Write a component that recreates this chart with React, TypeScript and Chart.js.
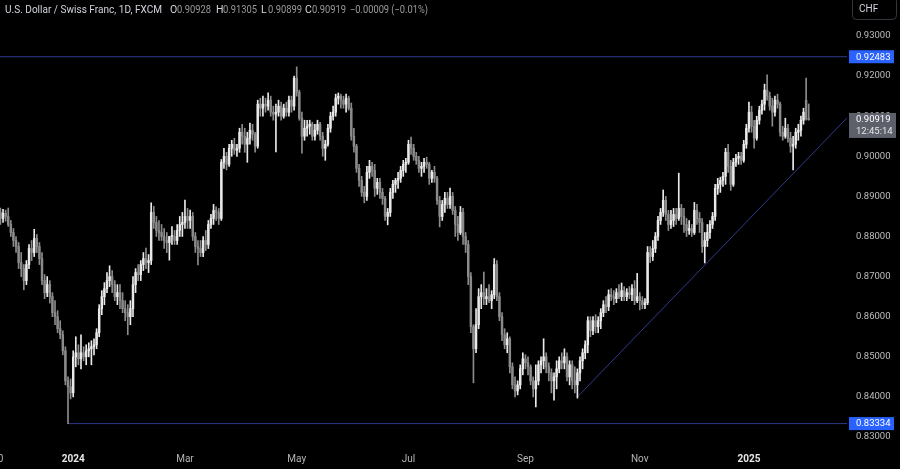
import React, { useEffect, useRef } from "react";
import { Chart, registerables } from "chart.js";
Chart.register(...registerables);

// ---- data: USD/CHF daily candles, 21 Nov 2023 .. 4 Feb 2025 (bar index 0 = 2 Jan 2024)
const FIRST_INDEX = -28;

const opens = [
  // Nov-Dec 2023
  .8860,.8845,.8858,.8850,.8830,.8810,.8790,.8775,.8735,.8720,.8690,.8730,.8770,.8760,.8795,.8775,.8745,.8690,.8660,.8680,.8650,.8610,.8600,.8570,.8555,.8515,.8440,.8425,
  // Jan 2024
  .8410,.8500,.8510,.8495,.8510,.8500,.8515,.8520,.8525,.8530,.8560,.8620,.8650,.8670,.8690,.8700,.8680,.8650,.8660,.8640,.8620,.8610,
  // Feb
  .8600,.8620,.8680,.8710,.8705,.8730,.8745,.8735,.8740,.8860,.8835,.8815,.8810,.8800,.8790,.8785,.8800,.8800,.8790,.8815,.8830,
  // Mar
  .8835,.8850,.8840,.8850,.8800,.8775,.8770,.8760,.8790,.8780,.8830,.8845,.8865,.8860,.8845,.8985,.9000,.8980,.9020,.9030,.9015,
  // Apr
  .9020,.9060,.9050,.9030,.9045,.9065,.9055,.9025,.9130,.9120,.9130,.9125,.9140,.9110,.9105,.9110,.9125,.9100,.9120,.9110,.9140,.9125,
  // May
  .9195,.9160,.9095,.9050,.9070,.9075,.9080,.9050,.9065,.9080,.9050,.9020,.9030,.9070,.9100,.9110,.9145,.9150,.9140,.9130,.9145,.9120,.9050,
  // Jun
  .9025,.8970,.8940,.8910,.8900,.8960,.8975,.8965,.8920,.8935,.8910,.8895,.8850,.8860,.8910,.8930,.8940,.8945,.8965,.8980,
  // Jul
  .8985,.9030,.9020,.9000,.8990,.8970,.8975,.8985,.8980,.8945,.8960,.8945,.8890,.8850,.8880,.8895,.8880,.8900,.8865,.8830,.8810,.8860,.8800,
  // Aug
  .8780,.8700,.8575,.8520,.8580,.8650,.8660,.8645,.8650,.8640,.8655,.8730,.8650,.8600,.8555,.8530,.8545,.8475,.8430,.8415,.8430,.8470,
  // Sep
  .8495,.8485,.8475,.8440,.8420,.8440,.8480,.8490,.8500,.8475,.8460,.8440,.8450,.8470,.8490,.8485,.8500,.8450,.8480,.8440,.8430,
  // Oct
  .8460,.8490,.8510,.8530,.8590,.8565,.8590,.8575,.8590,.8610,.8630,.8625,.8655,.8650,.8645,.8660,.8650,.8665,.8650,.8660,.8655,.8670,.8640,
  // Nov
  .8650,.8640,.8630,.8635,.8760,.8750,.8770,.8800,.8840,.8860,.8890,.8855,.8830,.8840,.8855,.8845,.8870,.8850,.8830,.8815,.8820,
  // Dec
  .8810,.8865,.8845,.8835,.8775,.8790,.8810,.8830,.8850,.8920,.8930,.8940,.8950,.9010,.8975,.8930,.8985,.8995,.9000,.8990,.9030,
  // Jan-Feb 2025
  .9070,.9110,.9075,.9045,.9090,.9115,.9130,.9165,.9150,.9125,.9110,.9140,.9130,.9060,.9050,.9070,.9045,.9025,.9030,.9060,.9065,.9090,.9140,.90928,
];

const highs = [
  .8871,.8868,.8866,.8871,.8840,.8820,.8800,.8785,.8760,.8730,.8740,.8780,.8790,.8818,.8805,.8785,.8760,.8705,.8700,.8690,.8660,.8640,.8615,.8590,.8565,.8525,.8450,.8445,
  .8515,.8550,.8530,.8555,.8525,.8530,.8535,.8540,.8545,.8570,.8630,.8665,.8685,.8710,.8727,.8715,.8690,.8680,.8680,.8660,.8640,.8630,
  .8640,.8700,.8720,.8730,.8740,.8760,.8771,.8755,.8884,.8875,.8850,.8840,.8830,.8820,.8810,.8800,.8825,.8815,.8830,.8850,.8860,
  .8891,.8870,.8866,.8860,.8810,.8790,.8790,.8800,.8815,.8840,.8855,.8880,.8874,.8870,.8992,.9020,.9010,.9030,.9040,.9045,.9030,
  .9070,.9080,.9070,.9060,.9083,.9080,.9060,.9140,.9145,.9150,.9145,.9158,.9150,.9125,.9130,.9140,.9135,.9130,.9135,.9150,.9150,.9200,
  .9223,.9165,.9110,.9090,.9090,.9090,.9085,.9080,.9090,.9085,.9060,.9040,.9080,.9110,.9125,.9155,.9158,.9155,.9150,.9155,.9150,.9133,.9070,
  .9030,.8980,.8950,.8925,.8975,.8990,.8985,.8980,.8945,.8945,.8920,.8900,.8870,.8920,.8940,.8945,.8960,.8975,.8990,.8995,
  .9040,.9048,.9030,.9010,.9000,.8985,.8995,.8998,.8985,.8965,.8975,.8950,.8900,.8890,.8910,.8910,.8921,.8910,.8875,.8850,.8875,.8870,.8810,
  .8790,.8710,.8580,.8620,.8670,.8680,.8711,.8670,.8680,.8665,.8745,.8740,.8660,.8610,.8570,.8560,.8550,.8485,.8450,.8440,.8480,.8510,
  .8505,.8500,.8480,.8450,.8480,.8490,.8500,.8545,.8510,.8485,.8470,.8460,.8490,.8500,.8510,.8520,.8510,.8490,.8490,.8475,.8470,
  .8500,.8520,.8540,.8600,.8600,.8600,.8605,.8600,.8620,.8640,.8650,.8667,.8670,.8665,.8670,.8680,.8684,.8675,.8670,.8675,.8680,.8690,.8708,
  .8660,.8650,.8645,.8775,.8775,.8790,.8810,.8850,.8870,.8916,.8900,.8865,.8865,.8870,.8870,.8958,.8880,.8870,.8845,.8840,.8830,
  .8885,.8880,.8860,.8845,.8810,.8830,.8840,.8860,.8930,.8945,.8948,.8960,.9020,.9030,.8990,.8995,.9005,.9010,.9010,.9040,.9080,
  .9135,.9125,.9090,.9100,.9125,.9140,.9180,.9203,.9160,.9145,.9150,.9155,.9135,.9075,.9095,.9080,.9060,.9050,.9070,.9080,.9100,.9120,.9195,.91305,
];

const lows = [
  .8830,.8835,.8838,.8825,.8800,.8775,.8760,.8720,.8700,.8667,.8680,.8720,.8740,.8750,.8760,.8730,.8680,.8645,.8650,.8634,.8600,.8580,.8560,.8545,.8505,.8430,.8333,.8395,
  .8400,.8475,.8480,.8470,.8490,.8480,.8500,.8480,.8505,.8520,.8550,.8605,.8630,.8660,.8675,.8660,.8640,.8630,.8620,.8610,.8590,.8555,
  .8580,.8600,.8660,.8690,.8690,.8715,.8720,.8710,.8730,.8820,.8800,.8790,.8790,.8770,.8760,.8741,.8780,.8780,.8780,.8800,.8800,
  .8820,.8820,.8820,.8790,.8760,.8729,.8750,.8750,.8765,.8770,.8820,.8830,.8840,.8830,.8840,.8970,.8966,.8975,.9000,.9005,.9000,
  .9010,.9030,.9010,.8985,.9030,.9040,.9010,.9020,.9100,.9100,.9110,.9115,.9100,.9090,.9011,.9100,.9090,.9095,.9100,.9100,.9110,.9115,
  .9150,.9090,.9008,.9040,.9050,.9055,.9040,.9040,.9055,.9040,.9000,.8990,.9025,.9060,.9090,.9100,.9130,.9120,.9120,.9110,.9115,.9040,.9010,
  .8960,.8925,.8900,.8884,.8890,.8945,.8950,.8900,.8905,.8895,.8880,.8840,.8829,.8850,.8895,.8910,.8920,.8935,.8950,.8960,
  .8980,.9005,.8990,.8980,.8960,.8950,.8960,.8970,.8930,.8935,.8935,.8880,.8824,.8840,.8860,.8870,.8870,.8855,.8800,.8790,.8805,.8780,.8760,
  .8680,.8560,.8435,.8510,.8570,.8620,.8630,.8630,.8635,.8620,.8645,.8640,.8590,.8540,.8520,.8510,.8460,.8420,.8400,.8405,.8420,.8455,
  .8470,.8455,.8430,.8400,.8375,.8430,.8460,.8470,.8460,.8440,.8410,.8392,.8420,.8460,.8470,.8470,.8440,.8430,.8420,.8410,.8397,
  .8440,.8470,.8495,.8510,.8550,.8555,.8560,.8560,.8570,.8600,.8610,.8615,.8640,.8630,.8635,.8645,.8640,.8640,.8640,.8645,.8640,.8630,.8635,
  .8617,.8620,.8620,.8630,.8735,.8740,.8760,.8790,.8830,.8850,.8840,.8815,.8820,.8825,.8830,.8840,.8830,.8810,.8800,.8805,.8800,
  .8805,.8830,.8810,.8760,.8734,.8775,.8795,.8820,.8840,.8905,.8910,.8925,.8930,.8960,.8915,.8925,.8975,.8980,.8980,.8985,.9020,
  .9060,.9060,.9020,.9040,.9080,.9105,.9115,.9140,.9115,.9075,.9100,.9120,.9050,.9040,.9045,.9035,.9010,.8966,.9020,.9040,.9050,.9080,.9090,.90899,
];

const closes = [
  .8845,.8858,.8850,.8830,.8810,.8790,.8775,.8735,.8720,.8690,.8730,.8770,.8760,.8795,.8775,.8745,.8690,.8660,.8680,.8650,.8610,.8600,.8570,.8555,.8515,.8440,.8425,.8410,
  .8500,.8510,.8495,.8510,.8500,.8515,.8520,.8525,.8530,.8560,.8620,.8650,.8670,.8690,.8700,.8680,.8650,.8660,.8640,.8620,.8610,.8600,
  .8620,.8680,.8710,.8705,.8730,.8745,.8735,.8740,.8860,.8835,.8815,.8810,.8800,.8790,.8785,.8800,.8800,.8790,.8815,.8830,.8835,
  .8850,.8840,.8850,.8800,.8775,.8770,.8760,.8790,.8780,.8830,.8845,.8865,.8860,.8845,.8985,.9000,.8980,.9020,.9030,.9015,.9020,
  .9060,.9050,.9030,.9045,.9065,.9055,.9025,.9130,.9120,.9130,.9125,.9140,.9110,.9105,.9110,.9125,.9100,.9120,.9110,.9140,.9125,.9195,
  .9160,.9095,.9050,.9070,.9075,.9080,.9050,.9065,.9080,.9050,.9020,.9030,.9070,.9100,.9110,.9145,.9150,.9140,.9130,.9145,.9120,.9050,.9025,
  .8970,.8940,.8910,.8900,.8960,.8975,.8965,.8920,.8935,.8910,.8895,.8850,.8860,.8910,.8930,.8940,.8945,.8965,.8980,.8985,
  .9030,.9020,.9000,.8990,.8970,.8975,.8985,.8980,.8945,.8960,.8945,.8890,.8850,.8880,.8895,.8880,.8900,.8865,.8830,.8810,.8860,.8800,.8780,
  .8700,.8575,.8520,.8580,.8650,.8660,.8645,.8650,.8640,.8655,.8730,.8650,.8600,.8555,.8530,.8545,.8475,.8430,.8415,.8430,.8470,.8495,
  .8485,.8475,.8440,.8420,.8440,.8480,.8490,.8500,.8475,.8460,.8440,.8450,.8470,.8490,.8485,.8500,.8450,.8480,.8440,.8430,.8460,
  .8490,.8510,.8530,.8590,.8565,.8590,.8575,.8590,.8610,.8630,.8625,.8655,.8650,.8645,.8660,.8650,.8665,.8650,.8660,.8655,.8670,.8640,.8650,
  .8640,.8630,.8635,.8760,.8750,.8770,.8800,.8840,.8860,.8890,.8855,.8830,.8840,.8855,.8845,.8870,.8850,.8830,.8815,.8820,.8810,
  .8865,.8845,.8835,.8775,.8790,.8810,.8830,.8850,.8920,.8930,.8940,.8950,.9010,.8975,.8930,.8985,.8995,.9000,.8990,.9030,.9070,
  .9110,.9075,.9045,.9090,.9115,.9130,.9165,.9150,.9125,.9110,.9140,.9130,.9060,.9050,.9070,.9045,.9025,.9030,.9060,.9065,.9090,.9110,.9093,.90919,
];

// axis ticks
const xTickIndex = [-29, 0, 43, 86, 129, 174, 218, 260];
const xTickLabels = ["20", "2024", "Mar", "May", "Jul", "Sep", "Nov", "2025"];
const yTickValues = [0.83, 0.84, 0.85, 0.86, 0.87, 0.88, 0.89, 0.90, 0.91, 0.92, 0.93];

// drawings
const resistanceLevel = 0.92483;
const supportLevel = 0.83334;
const supportStartIndex = -2;
const trendLinePoints = [
  { x: 194, y: 0.8400 },
  { x: 300, y: 0.9111 },
];
const lastPrice = 0.90919;
const countdownText = "12:45:14";

// header
const titleText = "U.S. Dollar / Swiss Franc, 1D, FXCM";
const ohlcLetters = ["O", "H", "L", "C"];
const ohlcValues = ["0.90928", "0.91305", "0.90899", "0.90919"];
const changeText = "\u22120.00009 (\u22120.01%)";

// view window (bar index / price)
const X_MIN = -28.165;
const X_MAX = 297.73;
const Y_MIN = 0.827257;
const Y_MAX = 0.938978;

const UP = "#e9e9e9";
const DOWN = "#8b8b8b";
const LINE = "#2e3a8c";
const FONT = "Roboto, 'Noto Sans', sans-serif";

export default function App() {
  const ref = useRef<HTMLCanvasElement>(null);

  useEffect(() => {
    document.body.style.margin = "0";
    document.body.style.background = "#000";
    document.body.style.overflow = "hidden";
    const canvas = ref.current;
    if (!canvas) return;

    const n = Math.min(opens.length, highs.length, lows.length, closes.length);
    const idx = Array.from({ length: n }, (_, i) => i);
    const bodies = idx.map((i) => ({ x: FIRST_INDEX + i, y: [opens[i], closes[i]] }));
    const wicks = idx.map((i) => ({ x: FIRST_INDEX + i, y: [lows[i], highs[i]] }));
    const colorOf = (i: number) => (closes[i] >= opens[i] ? UP : DOWN);

    const overlay = {
      id: "overlay",
      beforeDraw(chart: any) {
        const c = chart.ctx;
        c.save();
        c.fillStyle = "#000";
        c.fillRect(0, 0, chart.width, chart.height);
        c.restore();
      },
      afterDraw(chart: any) {
        const c = chart.ctx as CanvasRenderingContext2D;
        const ys = chart.scales.y;
        const right = chart.chartArea.right;
        c.save();
        c.textBaseline = "middle";
        c.textAlign = "left";

        // header
        c.font = `10.5px ${FONT}`;
        c.fillStyle = "#d1d4dc";
        c.fillText(titleText, 5, 10, 157);
        const letterX = [170, 216, 261, 305];
        ohlcLetters.forEach((l, i) => {
          c.fillStyle = "#d1d4dc";
          c.fillText(l, letterX[i], 10);
          c.fillStyle = "#9a9a9a";
          c.fillText(ohlcValues[i], letterX[i] + 7, 10, 34);
        });
        c.fillText(changeText, 350, 10, 78);

        // currency button
        c.strokeStyle = "#34363d";
        c.lineWidth = 1;
        c.beginPath();
        (c as any).roundRect(852.5, -3.5, 44, 23, 4);
        c.stroke();
        c.fillStyle = "#d1d4dc";
        c.font = `10px ${FONT}`;
        c.fillText("CHF", 859, 9.5);

        // price tags
        c.font = `9.5px ${FONT}`;
        const tag = (price: number, text: string) => {
          const y = ys.getPixelForValue(price);
          c.fillStyle = "#2962ff";
          c.fillRect(right + 2, y - 6.5, 45, 13);
          c.fillStyle = "#ffffff";
          c.fillText(text, right + 9, y + 0.5);
        };
        tag(resistanceLevel, resistanceLevel.toFixed(5));
        tag(supportLevel, supportLevel.toFixed(5));

        const yl = ys.getPixelForValue(lastPrice);
        c.fillStyle = "#5d606b";
        c.fillRect(right + 2, yl - 6.5, 47, 25);
        c.fillStyle = "#ffffff";
        c.fillText(lastPrice.toFixed(5), right + 9, yl);
        c.fillStyle = "#e6e6e6";
        c.fillText(countdownText, right + 9, yl + 12.5);
        c.restore();
      },
    };

    const chart = new Chart(canvas, {
      type: "bar",
      data: {
        datasets: [
          {
            type: "line",
            data: [
              { x: X_MIN - 5, y: resistanceLevel },
              { x: X_MAX + 5, y: resistanceLevel },
            ],
            borderColor: LINE,
            borderWidth: 1,
            pointRadius: 0,
            order: 3,
          },
          {
            type: "line",
            data: [
              { x: supportStartIndex, y: supportLevel },
              { x: X_MAX + 5, y: supportLevel },
            ],
            borderColor: LINE,
            borderWidth: 1,
            pointRadius: 0,
            order: 3,
          },
          {
            type: "line",
            data: trendLinePoints,
            borderColor: LINE,
            borderWidth: 1,
            pointRadius: 0,
            order: 3,
          },
          {
            type: "bar",
            data: wicks as any,
            backgroundColor: (ctx: any) => colorOf(ctx.dataIndex),
            barThickness: 1,
            grouped: false,
            order: 2,
          },
          {
            type: "bar",
            data: bodies as any,
            backgroundColor: (ctx: any) => colorOf(ctx.dataIndex),
            barThickness: 1.8,
            minBarLength: 1,
            grouped: false,
            order: 1,
          },
        ] as any,
      },
      options: {
        responsive: false,
        animation: false,
        devicePixelRatio: 1,
        events: [],
        layout: { padding: 0 },
        plugins: { legend: { display: false }, tooltip: { enabled: false } },
        scales: {
          x: {
            type: "linear",
            min: X_MIN,
            max: X_MAX,
            offset: false,
            grid: { display: false, drawTicks: false },
            border: { display: false },
            afterBuildTicks: (s: any) => {
              s.ticks = xTickIndex.map((v) => ({ value: v }));
            },
            afterFit: (s: any) => {
              s.height = 21;
              s.paddingLeft = 0;
              s.paddingRight = 0;
            },
            ticks: {
              autoSkip: false,
              maxRotation: 0,
              minRotation: 0,
              padding: 5,
              callback: (_v: any, i: number) => xTickLabels[i],
              color: (ctx: any) => (/^\d{4}$/.test(xTickLabels[ctx.index] || "") ? "#e6e6e6" : "#b4b4b4"),
              font: (ctx: any) => ({
                family: FONT,
                size: 10,
                weight: /^\d{4}$/.test(xTickLabels[ctx.index] || "") ? "bold" : "normal",
              }),
            },
          },
          y: {
            type: "linear",
            position: "right",
            min: Y_MIN,
            max: Y_MAX,
            grid: { display: false, drawTicks: false },
            border: { display: false },
            afterBuildTicks: (s: any) => {
              s.ticks = yTickValues.map((v) => ({ value: v }));
            },
            afterFit: (s: any) => {
              s.width = 53;
              s.paddingTop = 0;
              s.paddingBottom = 0;
            },
            ticks: {
              padding: 9,
              color: "#bdbdbd",
              font: { family: FONT, size: 9.5 },
              callback: (v: any) => Number(v).toFixed(5),
            },
          },
        },
      } as any,
      plugins: [overlay],
    });

    return () => chart.destroy();
  }, []);

  return (
    <div style={{ width: 900, height: 469, background: "#000", overflow: "hidden" }}>
      <canvas ref={ref} width={900} height={469} style={{ display: "block" }} />
    </div>
  );
}
